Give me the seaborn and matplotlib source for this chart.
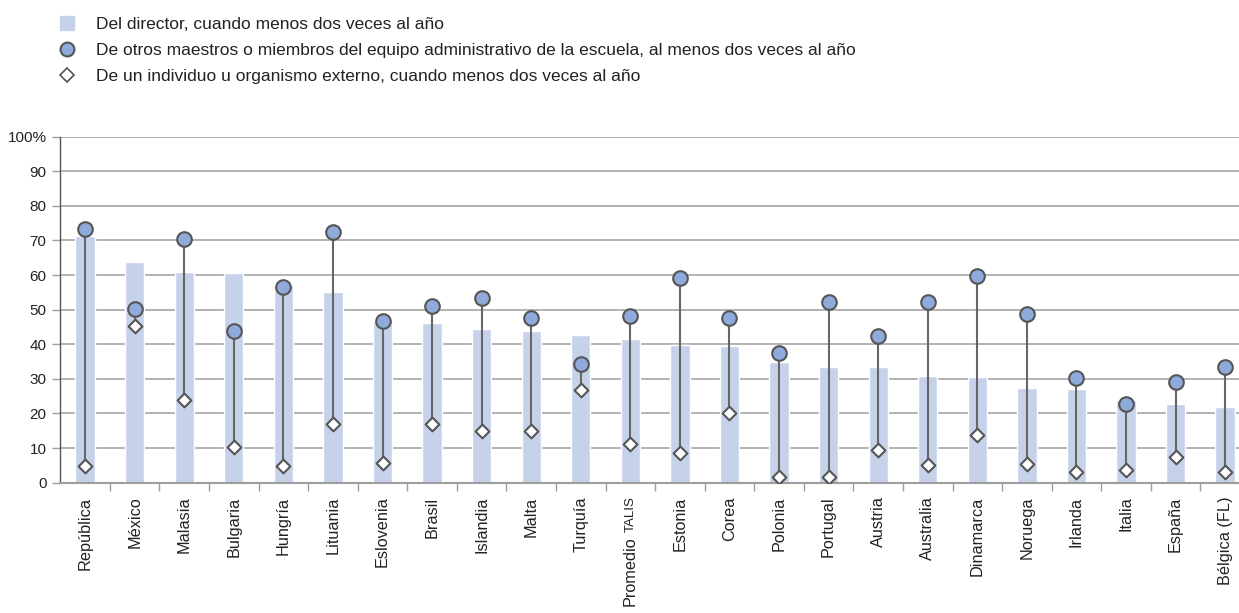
import numpy as np
import seaborn as sb
import matplotlib.pyplot as plt
from matplotlib.lines import Line2D

# ##############################################################################
# data (percent of teachers receiving feedback)
paises = ['República', 'México', 'Malasia', 'Bulgaria', 'Hungría', 'Lituania',
          'Eslovenia', 'Brasil', 'Islandia', 'Malta', 'Turquía', 'Promedio TALIS',
          'Estonia', 'Corea', 'Polonia', 'Portugal', 'Austria', 'Australia',
          'Dinamarca', 'Noruega', 'Irlanda', 'Italia', 'España', 'Bélgica (FL)']
director = [71.3, 63.8, 60.9, 60.6, 57.1, 55.1, 46.8, 46.2, 44.4, 43.8, 42.7, 41.5,
            39.8, 39.6, 34.9, 33.4, 33.4, 30.8, 30.5, 27.4, 27.1, 23.9, 22.7, 21.8]
otros_maestros = [73.2, 50.3, 70.5, 43.9, 56.6, 72.4, 46.8, 51.2, 53.5, 47.6, 34.2, 48.3,
                  59.1, 47.5, 37.6, 52.2, 42.4, 52.2, 59.7, 48.8, 30.2, 22.8, 29.1, 33.4]
externo = [4.8, 45.4, 23.9, 10.4, 4.8, 17.0, 5.8, 17.0, 15.0, 15.0, 26.9, 11.2,
           8.6, 20.1, 1.5, 1.5, 9.4, 5.0, 13.7, 5.4, 3.2, 3.7, 7.3, 3.2]
y_ticks = [0, 10, 20, 30, 40, 50, 60, 70, 80, 90, 100]
y_tick_labels = ['0', '10', '20', '30', '40', '50', '60', '70', '80', '90', '100%']
legend_labels = ['Del director, cuando menos dos veces al año',
                 'De otros maestros o miembros del equipo administrativo de la escuela, al menos dos veces al año',
                 'De un individuo u organismo externo, cuando menos dos veces al año']

# ------------------------------------------------------------------------------
# general settings
sb.set_style('white')
plt.rcParams['font.family'] = ['Liberation Sans', 'DejaVu Sans']
plt.rcParams['text.color'] = '#222222'

BAR_COLOR = '#C6D2EA'
CIRCLE_COLOR = '#8FABDB'
EDGE_COLOR = '#555555'
GRID_COLOR = '#9E9E9E'

fig = plt.figure(figsize=(12.39, 6.13), dpi=100)
ax = fig.add_axes([0.0487, 0.2126, 0.9513, 0.5644])

# ------------------------------------------------------------------------------
# plot
sb.barplot(x=paises, y=director, color=BAR_COLOR, saturation=1, width=0.39,
           errorbar=None, ax=ax, zorder=2)
pos = np.arange(len(paises))
ax.vlines(pos, externo, otros_maestros, color='#666666', lw=1.5, zorder=3)
sb.stripplot(x=paises, y=otros_maestros, jitter=False, marker='o', size=10.5,
             color=CIRCLE_COLOR, edgecolor=EDGE_COLOR, linewidth=1.5, ax=ax, zorder=4)
sb.stripplot(x=paises, y=externo, jitter=False, marker='D', size=7,
             color='white', edgecolor=EDGE_COLOR, linewidth=1.5, ax=ax, zorder=5)

## axes
ax.set_xlim(-0.5, 23.28)
ax.set_ylim(0, 100)
ax.set_axisbelow(True)
ax.yaxis.grid(True, color=GRID_COLOR, lw=1.1)
ax.xaxis.grid(False)
ax.set_xlabel('')
ax.set_ylabel('')

ax.set_yticks(y_ticks, labels=y_tick_labels)
ax.tick_params(axis='y', left=True, length=6, width=1, color=GRID_COLOR,
               pad=4, labelsize=11, labelcolor='#222222')

### "Promedio TALIS": the TALIS part goes in small caps (smaller font)
idx = paises.index('Promedio TALIS')
first_word, small_caps = paises[idx].split(' ', 1)
tick_labels = list(paises)
tick_labels[idx] = small_caps

ax.set_xticks(pos, labels=tick_labels)
ax.set_xticks(pos[:-1] + 0.5, minor=True)
ax.tick_params(axis='x', which='major', length=0, pad=10, labelsize=11.7,
               labelrotation=90, labelcolor='#222222')
ax.tick_params(axis='x', which='minor', bottom=True, length=6, width=1,
               color=GRID_COLOR)
for lbl in ax.get_xticklabels():
  lbl.set_va('top')
lbl = ax.get_xticklabels()[idx]
lbl.set_fontsize(9.5)
ax.annotate(first_word, xy=(0.5, 0), xycoords=lbl, xytext=(0, -2.5),
            textcoords='offset points', rotation=90, ha='center', va='top',
            fontsize=11.7, color='#222222', annotation_clip=False)

for side in ['top', 'right']:
  ax.spines[side].set_visible(False)
ax.spines['left'].set_color('#555555')
ax.spines['left'].set_linewidth(1)
ax.spines['bottom'].set_color(GRID_COLOR)
ax.spines['bottom'].set_linewidth(1.5)

### legend
handles = [
  Line2D([], [], marker='s', ls='none', ms=10, color=BAR_COLOR),
  Line2D([], [], marker='o', ls='none', ms=10, mfc=CIRCLE_COLOR, mec=EDGE_COLOR, mew=1.5),
  Line2D([], [], marker='D', ls='none', ms=7, mfc='white', mec=EDGE_COLOR, mew=1.2),
]
fig.legend(handles, legend_labels, loc='upper left', bbox_to_anchor=(58.3 / 1239, 1 - 17 / 613),
           frameon=False, fontsize=12.5, handlelength=1.0, handletextpad=1.2,
           labelspacing=0.62, borderpad=0, borderaxespad=0)

# ------------------------------------------------------------------------------
# store graph
fig.savefig('out.png', dpi=100)
plt.close('all')
